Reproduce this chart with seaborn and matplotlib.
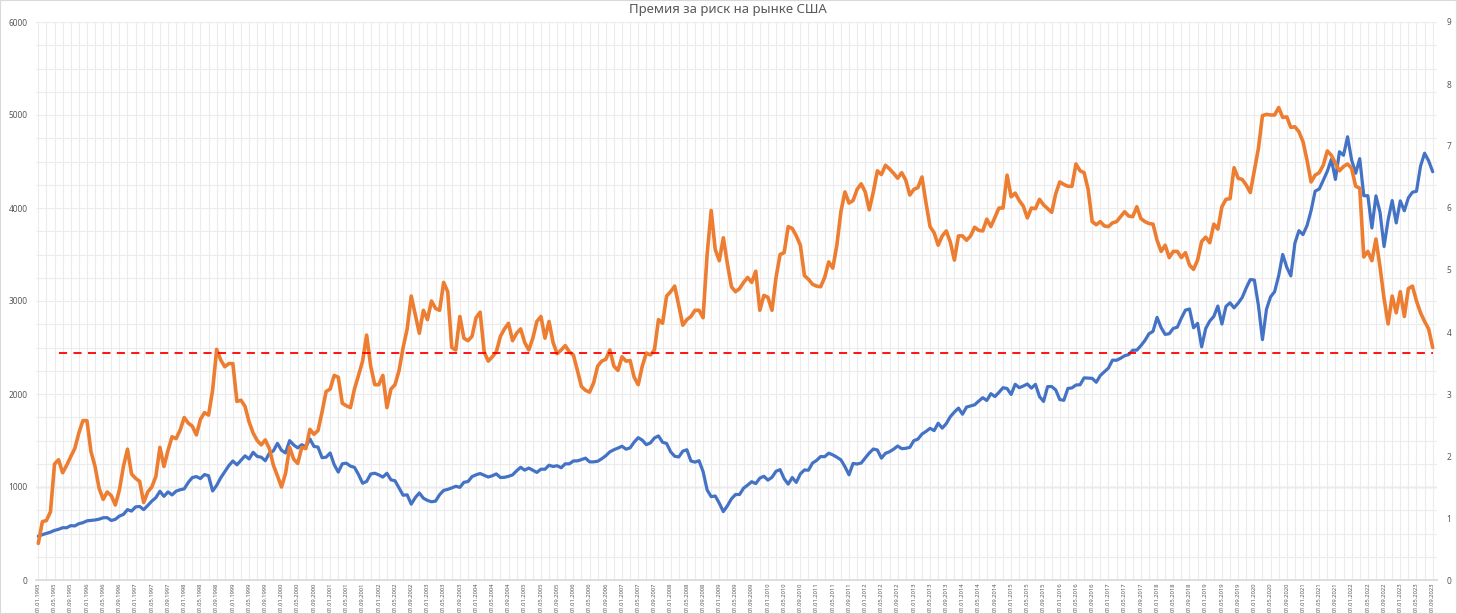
import numpy as np
import pandas as pd
import matplotlib
matplotlib.use("Agg")
import matplotlib.pyplot as plt
import seaborn as sns
from matplotlib.patches import Rectangle

# ---------------- data ----------------
title = "Премия за риск на рынке США"
start_month = "1995-01-01"

sp500 = [
    470.4, 487.4, 500.7, 514.7, 533.4, 544.8, 562.1, 561.9, 584.4, 581.5, 605.4, 615.9,
    636.0, 640.4, 645.5, 654.2, 669.1, 670.6, 639.9, 652.0, 687.3, 705.3, 757.0, 740.7,
    786.2, 790.8, 757.1, 801.3, 848.3, 885.1, 954.3, 899.5, 947.3, 914.6, 955.4, 970.4,
    980.3, 1049.3, 1101.8, 1111.8, 1090.8, 1133.8, 1120.7, 957.3, 1017.0, 1098.7, 1163.6, 1229.2,
    1279.6, 1238.3, 1286.4, 1335.2, 1301.8, 1372.7, 1328.7, 1320.4, 1282.7, 1362.9, 1389.0, 1469.3,
    1394.5, 1366.4, 1498.6, 1452.4, 1420.6, 1454.6, 1430.8, 1517.7, 1436.5, 1429.4, 1315.0, 1320.3,
    1366.0, 1239.9, 1160.3, 1249.5, 1255.8, 1224.4, 1211.2, 1133.6, 1040.9, 1059.8, 1139.5, 1148.1,
    1130.2, 1106.7, 1147.4, 1076.9, 1067.1, 989.8, 911.6, 916.1, 815.3, 885.8, 936.3, 879.8,
    855.7, 841.2, 848.2, 916.9, 963.6, 974.5, 990.3, 1008.0, 996.0, 1050.7, 1058.2, 1111.9,
    1131.1, 1144.9, 1126.2, 1107.3, 1120.7, 1140.8, 1101.7, 1104.2, 1114.6, 1130.2, 1173.8, 1211.9,
    1181.3, 1203.6, 1180.6, 1156.9, 1191.5, 1191.3, 1234.2, 1220.3, 1228.8, 1207.0, 1249.5, 1248.3,
    1280.1, 1280.7, 1294.8, 1310.6, 1270.1, 1270.2, 1276.7, 1303.8, 1335.9, 1377.9, 1400.6, 1418.3,
    1438.2, 1406.8, 1420.9, 1482.4, 1530.6, 1503.4, 1455.3, 1474.0, 1526.8, 1549.4, 1481.1, 1468.4,
    1378.6, 1330.6, 1322.7, 1385.6, 1400.4, 1280.0, 1267.4, 1282.8, 1166.4, 968.8, 896.2, 903.3,
    825.9, 735.1, 797.9, 872.8, 919.1, 919.3, 987.5, 1020.6, 1057.1, 1036.2, 1095.6, 1115.1,
    1073.9, 1104.5, 1169.4, 1186.7, 1089.4, 1030.7, 1101.6, 1049.3, 1141.2, 1183.3, 1180.6, 1257.6,
    1286.1, 1327.2, 1325.8, 1363.6, 1345.2, 1320.6, 1292.3, 1218.9, 1131.4, 1253.3, 1247.0, 1257.6,
    1312.4, 1365.7, 1408.5, 1397.9, 1310.3, 1362.2, 1379.3, 1406.6, 1440.7, 1412.2, 1416.2, 1426.2,
    1498.1, 1514.7, 1569.2, 1597.6, 1630.7, 1606.3, 1685.7, 1633.0, 1681.6, 1756.5, 1805.8, 1848.4,
    1782.6, 1859.5, 1872.3, 1883.9, 1923.6, 1960.2, 1930.7, 2003.4, 1972.3, 2018.1, 2067.6, 2058.9,
    1995.0, 2104.5, 2067.9, 2085.5, 2107.4, 2063.1, 2103.8, 1972.2, 1920.0, 2079.4, 2080.4, 2043.9,
    1940.2, 1932.2, 2059.7, 2065.3, 2097.0, 2098.9, 2173.6, 2171.0, 2168.3, 2126.2, 2199.0, 2238.8,
    2278.9, 2363.6, 2362.7, 2384.2, 2411.8, 2423.4, 2470.3, 2471.7, 2519.4, 2575.3, 2647.6, 2673.6,
    2823.8, 2713.8, 2640.9, 2648.1, 2705.3, 2718.4, 2816.3, 2901.5, 2914.0, 2711.7, 2760.2, 2506.9,
    2704.1, 2784.5, 2834.4, 2945.8, 2752.1, 2941.8, 2980.4, 2926.5, 2976.7, 3037.6, 3141.0, 3230.8,
    3225.5, 2954.2, 2584.6, 2912.4, 3044.3, 3100.3, 3271.1, 3500.3, 3363.0, 3270.0, 3621.6, 3756.1,
    3714.2, 3811.2, 3972.9, 4181.2, 4204.1, 4297.5, 4395.3, 4522.7, 4307.5, 4605.4, 4567.0, 4766.2,
    4515.6, 4373.9, 4530.4, 4131.9, 4132.2, 3785.4, 4130.3, 3955.0, 3585.6, 3872.0, 4080.1, 3839.5,
    4076.6, 3970.2, 4109.3, 4169.5, 4179.8, 4450.4, 4589.0, 4507.7, 4390.0,
]

premium = [
    0.59, 0.94, 0.96, 1.10, 1.87, 1.94, 1.73, 1.85, 1.99, 2.12, 2.37, 2.57,
    2.57, 2.07, 1.83, 1.48, 1.30, 1.42, 1.36, 1.21, 1.45, 1.83, 2.11, 1.71,
    1.64, 1.59, 1.25, 1.42, 1.50, 1.67, 2.14, 1.83, 2.09, 2.31, 2.28, 2.42,
    2.62, 2.53, 2.48, 2.34, 2.59, 2.70, 2.66, 3.06, 3.72, 3.55, 3.44, 3.49,
    3.49, 2.88, 2.90, 2.80, 2.55, 2.37, 2.25, 2.18, 2.26, 2.12, 1.85, 1.68,
    1.50, 1.72, 2.14, 1.95, 1.88, 2.14, 2.12, 2.43, 2.35, 2.41, 2.71, 3.04,
    3.08, 3.30, 3.27, 2.85, 2.81, 2.78, 3.08, 3.30, 3.53,
    3.95, 3.45, 3.15, 3.15, 3.30, 2.78, 3.08, 3.15, 3.38, 3.75,
    4.05, 4.58, 4.28, 3.98, 4.35, 4.20, 4.50, 4.38, 4.35, 4.80,
    4.65, 3.75, 3.71, 4.25, 3.90, 3.86, 3.93, 4.23, 4.32,
    3.68, 3.53, 3.60, 3.68, 3.93, 4.05, 4.14, 3.86, 3.98, 4.05,
    3.83, 3.71, 3.90, 4.17, 4.25, 3.90, 4.17, 3.83, 3.65, 3.71,
    3.78, 3.68, 3.63, 3.38, 3.12, 3.06, 3.03, 3.18, 3.45, 3.53,
    3.56, 3.71, 3.45, 3.38, 3.60, 3.53, 3.54, 3.27, 3.15, 3.45,
    3.66, 3.63, 3.71, 4.20, 4.14, 4.58, 4.65, 4.74, 4.43, 4.11,
    4.20, 4.25, 4.35, 4.35, 4.23, 5.25, 5.96, 5.33, 5.15, 5.52,
    5.10, 4.73, 4.65, 4.70, 4.80, 4.88, 4.80, 4.98, 4.35, 4.59,
    4.56, 4.35, 4.88, 5.25, 5.28, 5.70, 5.67, 5.55, 5.40,
    4.91, 4.85, 4.77, 4.74, 4.73, 4.88, 5.13, 5.03, 5.40, 5.94,
    6.26, 6.08, 6.12, 6.30, 6.39, 6.26, 5.97, 6.26, 6.60, 6.54,
    6.69, 6.63, 6.56, 6.48, 6.57, 6.45, 6.21, 6.30, 6.33, 6.50,
    6.08, 5.70, 5.60, 5.40, 5.55, 5.63, 5.45, 5.16, 5.55, 5.55,
    5.48, 5.55, 5.69, 5.64, 5.63, 5.82, 5.70, 5.85, 6.00, 6.00,
    6.53, 6.18, 6.24, 6.12, 6.03, 5.84, 6.00, 5.99, 6.14, 6.05,
    5.99, 5.93, 6.23, 6.42, 6.38, 6.35, 6.35, 6.71, 6.60,
    6.57, 6.30, 5.78, 5.73,
    5.78, 5.71, 5.70, 5.76, 5.78, 5.86, 5.94, 5.87, 5.86, 6.02,
    5.83, 5.78, 5.75, 5.74, 5.48, 5.30, 5.40, 5.20, 5.30, 5.30,
    5.20, 5.28, 5.08, 5.01, 5.16, 5.46, 5.53, 5.44, 5.74, 5.66,
    6.02, 6.14, 6.15, 6.65, 6.48, 6.46, 6.37, 6.25, 6.61, 6.96,
    7.49, 7.51, 7.50, 7.50, 7.62, 7.46, 7.47, 7.30, 7.31, 7.23,
    7.07, 6.77, 6.42, 6.53, 6.57, 6.69, 6.92, 6.85, 6.72, 6.60,
    6.67, 6.71, 6.64, 6.35, 6.32, 5.21, 5.30, 5.15, 5.50, 5.05,
    4.54, 4.13, 4.58, 4.31, 4.65, 4.25, 4.70, 4.74, 4.50, 4.31,
    4.17, 4.05, 3.75,
]

avg_premium = 3.66
avg_first_index = 5

left_ticks = [0, 1000, 2000, 3000, 4000, 5000, 6000]
right_ticks = [0, 1, 2, 3, 4, 5, 6, 7, 8, 9]

# ---------------- figure ----------------
W, H = 1457, 614
n = len(sp500)
idx = np.arange(n)
dates = pd.date_range(start_month, periods=n, freq="MS")
tick_pos = idx[::4]
tick_labels = [d.strftime("%d.%m.%Y") for d in dates[::4]]

sns.set_theme(style="white")
plt.rcParams["font.family"] = ["Noto Sans", "DejaVu Sans"]

fig = plt.figure(figsize=(W / 100, H / 100), dpi=100)
fig.patch.set_facecolor("white")

left_px, right_px, top_px, bot_px = 36, 1437, 22, 580
ax = fig.add_axes([left_px / W, (H - bot_px) / H, (right_px - left_px) / W, (bot_px - top_px) / H])
step = (1432.7 - 38.3) / (n - 1)
x0 = -(38.3 - left_px) / step
x1 = (n - 1) + (right_px - 1432.7) / step

grid_col = "#ECECEC"
ax.set_xlim(x0, x1)
ax.set_ylim(0, 6000)
ax.set_xticks(tick_pos)
ax.set_xticks(idx[::2], minor=True)
ax.set_yticks(left_ticks)
ax.set_yticks(np.arange(0, 6001, 250), minor=True)
ax.grid(True, which="both", axis="both", color=grid_col, lw=0.8)
ax.axhline(1000, color="#D0D0D0", lw=1.0, zorder=0.5)
ax.set_axisbelow(True)

sns.lineplot(x=idx, y=sp500, ax=ax, color="#4472C4", linewidth=2.3)

ax2 = ax.twinx()
ax2.set_ylim(0, 9)
ax2.set_xlim(x0, x1)
sns.lineplot(x=idx, y=premium, ax=ax2, color="#ED7D31", linewidth=2.6)
avg_x = idx[avg_first_index:]
sns.lineplot(x=avg_x, y=[avg_premium] * len(avg_x), ax=ax2, color="#FF0000", linewidth=1.3)
ax2.lines[-1].set_dashes([4.5, 3.5])
ax2.set_yticks(right_ticks)
ax2.grid(False)

for a in (ax, ax2):
    for s in a.spines.values():
        s.set_visible(False)
    a.set_xlabel("")
    a.set_ylabel("")
ax.spines["bottom"].set_visible(True)
ax.spines["bottom"].set_color("#D9D9D9")

tc = "#595959"
ax.set_xticklabels(tick_labels, rotation=90, fontsize=4.2, color=tc)
ax.tick_params(axis="x", which="both", length=0, pad=2)
ax.set_yticklabels([str(v) for v in left_ticks], fontsize=6, color=tc)
ax.tick_params(axis="y", which="both", length=0, pad=6)
ax2.set_yticklabels([str(v) for v in right_ticks], fontsize=6, color=tc)
ax2.tick_params(axis="y", which="both", length=0, pad=7)

fig.text(728 / W, 1 - 10 / H, title, ha="center", va="center", fontsize=9.5, color=tc)
fig.patches.append(Rectangle((0, 0), 1, 1, transform=fig.transFigure, fill=False,
                             edgecolor="#D9D9D9", lw=1.5))

fig.savefig("out.png", dpi=100)
